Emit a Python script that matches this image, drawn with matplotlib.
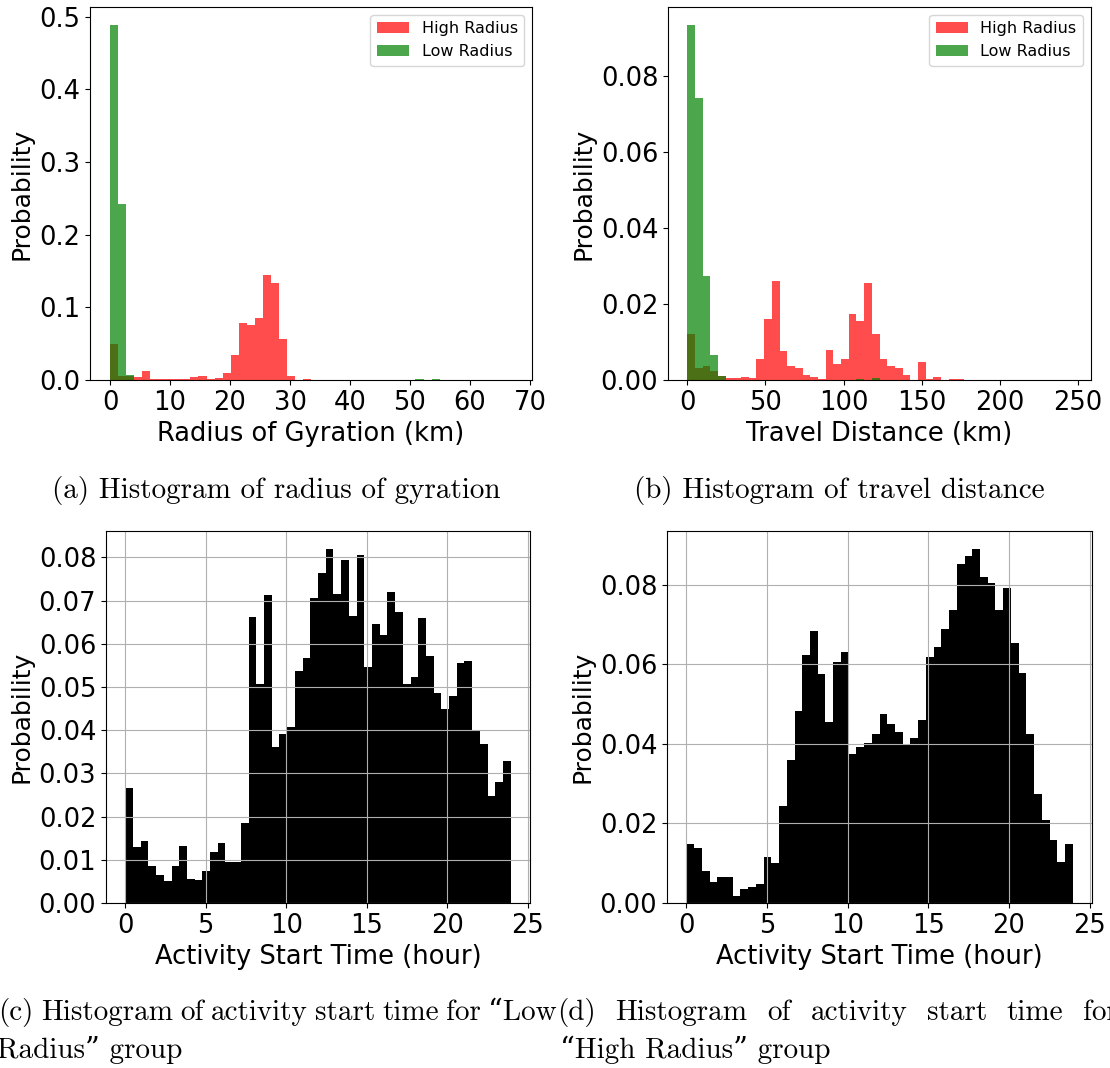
import numpy as np
import matplotlib
matplotlib.use("Agg")
import matplotlib.pyplot as plt

# --- data (bin heights, density) ---
radius_edges = np.linspace(0, 67, 51)
radius_high = [0.050, 0.0055, 0.0055, 0.0046, 0.013, 0.001, 0.002, 0.001, 0.001, 0.001,
               0.004, 0.0055, 0.002, 0.003, 0.010, 0.034, 0.079, 0.076, 0.086, 0.145,
               0.133, 0.056, 0.0055, 0.0, 0.002] + [0.0] * 25
radius_low = [0.489, 0.242, 0.0074] + [0.0] * 35 + [0.001, 0.0, 0.001] + [0.0] * 9

dist_edges = np.linspace(0, 246, 51)
dist_high = [0.012, 0.0032, 0.0037, 0.0023, 0.0011, 0.0004, 0.0005, 0.0009, 0.0005, 0.0056,
             0.0162, 0.026, 0.0077, 0.0037, 0.0032, 0.0014, 0.0009, 0.0002, 0.008, 0.0043,
             0.0056, 0.0174, 0.0156, 0.0256, 0.0122, 0.0056, 0.0037, 0.0032, 0.0014, 0.0,
             0.0048, 0.0002, 0.0007, 0.0, 0.0003, 0.0003] + [0.0] * 14
dist_low = [0.0936, 0.0744, 0.0275, 0.0065, 0.0011] + [0.0] * 17 + [0.0002, 0.0, 0.0006] + [0.0] * 25

hour_edges = np.linspace(0, 23.95, 51)
hour_low = [0.0266, 0.0130, 0.0143, 0.0085, 0.0065, 0.0051, 0.0086, 0.0131, 0.0055, 0.0053,
            0.0073, 0.0117, 0.0138, 0.0094, 0.0096, 0.0185, 0.0663, 0.0507, 0.0712, 0.0361,
            0.0391, 0.0408, 0.0536, 0.0566, 0.0707, 0.0764, 0.0820, 0.0715, 0.0793, 0.0664,
            0.0806, 0.0547, 0.0645, 0.0621, 0.0720, 0.0674, 0.0507, 0.0524, 0.0660, 0.0571,
            0.0486, 0.0450, 0.0478, 0.0556, 0.0561, 0.0400, 0.0368, 0.0247, 0.0279, 0.0328]
hour_high = [0.0149, 0.0138, 0.0080, 0.0054, 0.0066, 0.0065, 0.0017, 0.0034, 0.0041, 0.0049,
             0.0116, 0.0101, 0.0243, 0.0359, 0.0483, 0.0623, 0.0683, 0.0576, 0.0455, 0.0607,
             0.0630, 0.0374, 0.0393, 0.0403, 0.0426, 0.0475, 0.0450, 0.0431, 0.0400, 0.0414,
             0.0459, 0.0619, 0.0644, 0.0688, 0.0737, 0.0853, 0.0872, 0.0891, 0.0820, 0.0804,
             0.0736, 0.0792, 0.0655, 0.0579, 0.0424, 0.0273, 0.0209, 0.0159, 0.0103, 0.0149]

W, H = 1110, 1068
TICK = 18.5
XLAB = 18.5
YLAB = 18
CAP = 21
serif = ['cmr10', 'DejaVu Serif']

fig = plt.figure(figsize=(W / 100, H / 100), dpi=100)


def px_axes(l, t, r, b):
    return fig.add_axes([l / W, 1 - b / H, (r - l) / W, (b - t) / H])


def centers(edges):
    e = np.asarray(edges)
    return (e[:-1] + e[1:]) / 2


def style(ax, xlabel):
    ax.set_xlabel(xlabel, fontsize=XLAB)
    ax.set_ylabel('Probability', fontsize=YLAB)
    ax.tick_params(labelsize=TICK)


# (a) radius of gyration
ax = px_axes(90, 7, 532, 380)
ax.hist(centers(radius_edges), bins=radius_edges, weights=radius_high, color='red', alpha=0.7, label='High Radius')
ax.hist(centers(radius_edges), bins=radius_edges, weights=radius_low, color='green', alpha=0.7, label='Low Radius')
ax.set_xticks(range(0, 71, 10))
style(ax, 'Radius of Gyration (km)')
ax.legend(loc='upper right', fontsize=11.5)

# (b) travel distance
ax = px_axes(668, 7, 1091, 380)
ax.hist(centers(dist_edges), bins=dist_edges, weights=dist_high, color='red', alpha=0.7, label='High Radius')
ax.hist(centers(dist_edges), bins=dist_edges, weights=dist_low, color='green', alpha=0.7, label='Low Radius')
ax.set_xticks(range(0, 251, 50))
ax.set_yticks([0, 0.02, 0.04, 0.06, 0.08])
style(ax, 'Travel Distance (km)')
ax.legend(loc='upper right', fontsize=11.5)

# (c) start time, low radius
ax = px_axes(106, 531, 530, 903)
ax.hist(centers(hour_edges), bins=hour_edges, weights=hour_low, color='black')
ax.set_xticks(range(0, 26, 5))
ax.set_yticks(np.arange(0, 0.081, 0.01))
ax.grid(True)
style(ax, 'Activity Start Time (hour)')

# (d) start time, high radius
ax = px_axes(667, 531, 1092, 903)
ax.hist(centers(hour_edges), bins=hour_edges, weights=hour_high, color='black')
ax.set_xticks(range(0, 26, 5))
ax.set_yticks([0, 0.02, 0.04, 0.06, 0.08])
ax.grid(True)
style(ax, 'Activity Start Time (hour)')

# captions
fig.text(276 / W, 1 - 498 / H, '(a) Histogram of radius of gyration', family=serif,
         fontsize=CAP, ha='center', va='baseline')
fig.text(839 / W, 1 - 498 / H, '(b) Histogram of travel distance', family=serif,
         fontsize=CAP, ha='center', va='baseline')

renderer = fig.canvas.get_renderer()


def justify(words, x0, x1, y):
    ts = [fig.text(0, 1 - y / H, w, family=serif, fontsize=CAP, va='baseline') for w in words]
    ws = [t.get_window_extent(renderer).width for t in ts]
    gap = (x1 - x0 - sum(ws)) / (len(words) - 1)
    x = x0
    for t, w in zip(ts, ws):
        t.set_x(x / W)
        x += w + gap


justify(['(c)', 'Histogram', 'of', 'activity', 'start', 'time', 'for', '\u201cLow'], -2, 557, 1020)
fig.text(-3 / W, 1 - 1058 / H, 'Radius\u201d group', family=serif, fontsize=CAP, va='baseline')
justify(['(d)', 'Histogram', 'of', 'activity', 'start', 'time', 'for'], 557, 1118, 1020)
fig.text(560 / W, 1 - 1058 / H, '\u201cHigh Radius\u201d group', family=serif, fontsize=CAP, va='baseline')

fig.savefig('out.png', dpi=100)
